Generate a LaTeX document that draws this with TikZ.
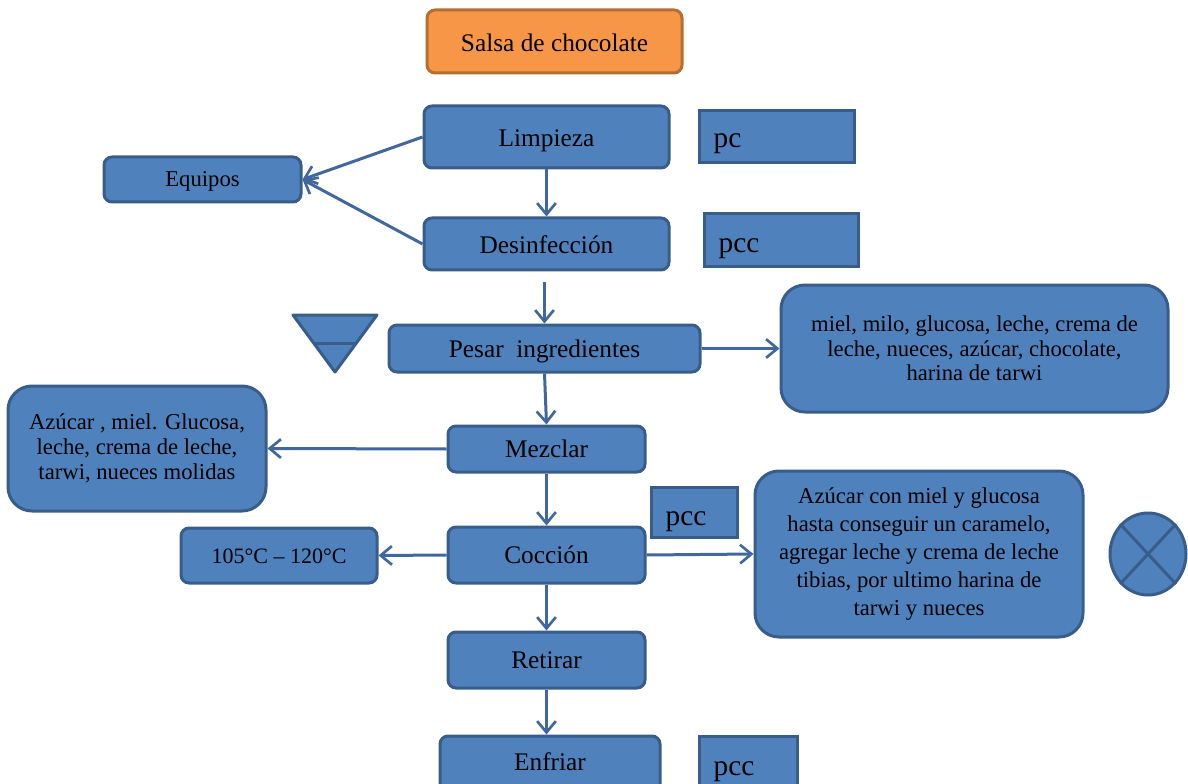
\documentclass[tikz,border=0pt]{standalone}
\usepackage{fontspec}
\setmainfont{Liberation Serif}
\usetikzlibrary{arrows.meta,shapes.geometric,calc}
\definecolor{fillb}{HTML}{4F81BD}
\definecolor{edgeb}{HTML}{385D8A}
\definecolor{fillo}{HTML}{F79646}
\definecolor{edgeo}{HTML}{B66D31}
\definecolor{arrc}{HTML}{41689E}
\begin{document}
\begin{tikzpicture}[x=0.75pt,y=-0.75pt,
  base/.style={draw=edgeb, fill=fillb, line width=2.25pt, inner sep=0pt, text=black},
  rbox/.style={base, rounded corners=6pt, font=\fontsize{19}{22}\selectfont, text height=13pt, text depth=0pt},
  sqbox/.style={base, font=\fontsize{22}{24}\selectfont, inner xsep=11pt, text depth=0pt},
  bigbox/.style={base, align=center, rounded corners=18pt, font=\fontsize{17}{18.5}\selectfont},
  shapefill/.style={draw=edgeb, fill=fillb, line width=2.25pt, line join=round},
  arr/.style={draw=arrc, line width=2.25pt, -{Straight Barb[length=8.5pt,width=14pt,line width=2pt]}},
]
\useasboundingbox (0,0) rectangle (1188,784);
\clip (0,0) rectangle (1188,784);

\node[rbox, fill=fillo, draw=edgeo, text height=15.75pt, minimum width=191.25pt, minimum height=47.25pt] (title) at (554.5,41.5) {Salsa de chocolate};
\node[rbox, text height=15pt, minimum width=183.75pt, minimum height=46.5pt] (lim) at (546.5,137) {Limpieza};
\node[sqbox, text height=16pt, text width=94.25pt, minimum height=39pt] (pc1) at (776.5,137) {pc};
\node[rbox, font=\fontsize{17}{20}\selectfont, text height=11.25pt, minimum width=147.75pt, minimum height=33.75pt] (equ) at (202.5,179.5) {Equipos};
\node[rbox, text height=13.5pt, minimum width=183.75pt, minimum height=39pt] (des) at (546.5,244) {Desinfección};
\node[sqbox, text height=18pt, text width=93.5pt, minimum height=39.75pt] (pc2) at (781,240.5) {pcc};
\node[rbox, text height=13pt, minimum width=233.25pt, minimum height=35.25pt] (pes) at (544.5,348.5) {Pesar\ \ ingredientes};
\node[bigbox, minimum width=290.25pt, minimum height=95.25pt] (ing) at (974.5,348.5) {miel, milo, glucosa, leche, crema de\\leche, nueces, azúcar, chocolate,\\harina de tarwi};
\node[bigbox, minimum width=193.5pt, minimum height=93.75pt] (mix) at (137,448.5) {Azúcar , miel. Glucosa,\\leche, crema de leche,\\tarwi, nueces molidas};
\node[rbox, text height=12pt, minimum width=147.75pt, minimum height=34.5pt] (mez) at (546.5,449) {Mezclar};
\node[sqbox, text height=19.5pt, text width=42.5pt, minimum height=37.5pt] (pc3) at (694,512) {pcc};
\node[bigbox, font=\fontsize{17}{21}\selectfont, minimum width=246pt, minimum height=124.5pt] (coc) at (919,554) {Azúcar con miel y glucosa\\hasta conseguir un caramelo,\\agregar leche y crema de leche\\tibias, por ultimo harina de\\tarwi y nueces};
\node[rbox, font=\fontsize{16.5}{20}\selectfont, text height=11.25pt, minimum width=147pt, minimum height=41.25pt] (tem) at (279,555.5) {105°C – 120°C};
\node[rbox, text height=12pt, minimum width=147.75pt, minimum height=42pt] (cocc) at (546.5,555) {Cocción};
\node[rbox, text height=12pt, minimum width=147.75pt, minimum height=42pt] (ret) at (546.5,660) {Retirar};
\node[rbox, text height=9pt, minimum width=165pt, minimum height=42pt] (enf) at (550,764) {Enfriar};
\node[sqbox, text height=17pt, text width=51.5pt, minimum height=42pt] (pc4) at (748,764) {pcc};

\node[base, ellipse, minimum width=57pt, minimum height=61.5pt] (ox) at (1148,554) {};
\draw[edgeb, line width=2.25pt] (ox.north west) -- (ox.south east) (ox.north east) -- (ox.south west);

\draw[shapefill] (293,315) -- (377,315) -- (335,372) -- cycle;
\draw[edgeb, line width=2.25pt] (315,343) -- (355,343);

\draw[arr] (lim.south) -- (des.north);
\draw[arr] (lim.west) -- (equ.east);
\draw[arr] (des.west) -- (equ.east);
\draw[arr, shorten <=8pt] (des.south -| pes.north) -- (pes.north);
\draw[arr] (pes.east) -- (ing.west);
\draw[arr] (pes.south) -- (mez.north);
\draw[arr] (mez.west) -- (mix.east);
\draw[arr] (mez.south) -- (cocc.north);
\draw[arr] (cocc.west) -- (tem.east);
\draw[arr] (cocc.east) -- (coc.west);
\draw[arr] (cocc.south) -- (ret.north);
\draw[arr] (ret.south) -- (ret.south |- enf.north);
\end{tikzpicture}
\end{document}
